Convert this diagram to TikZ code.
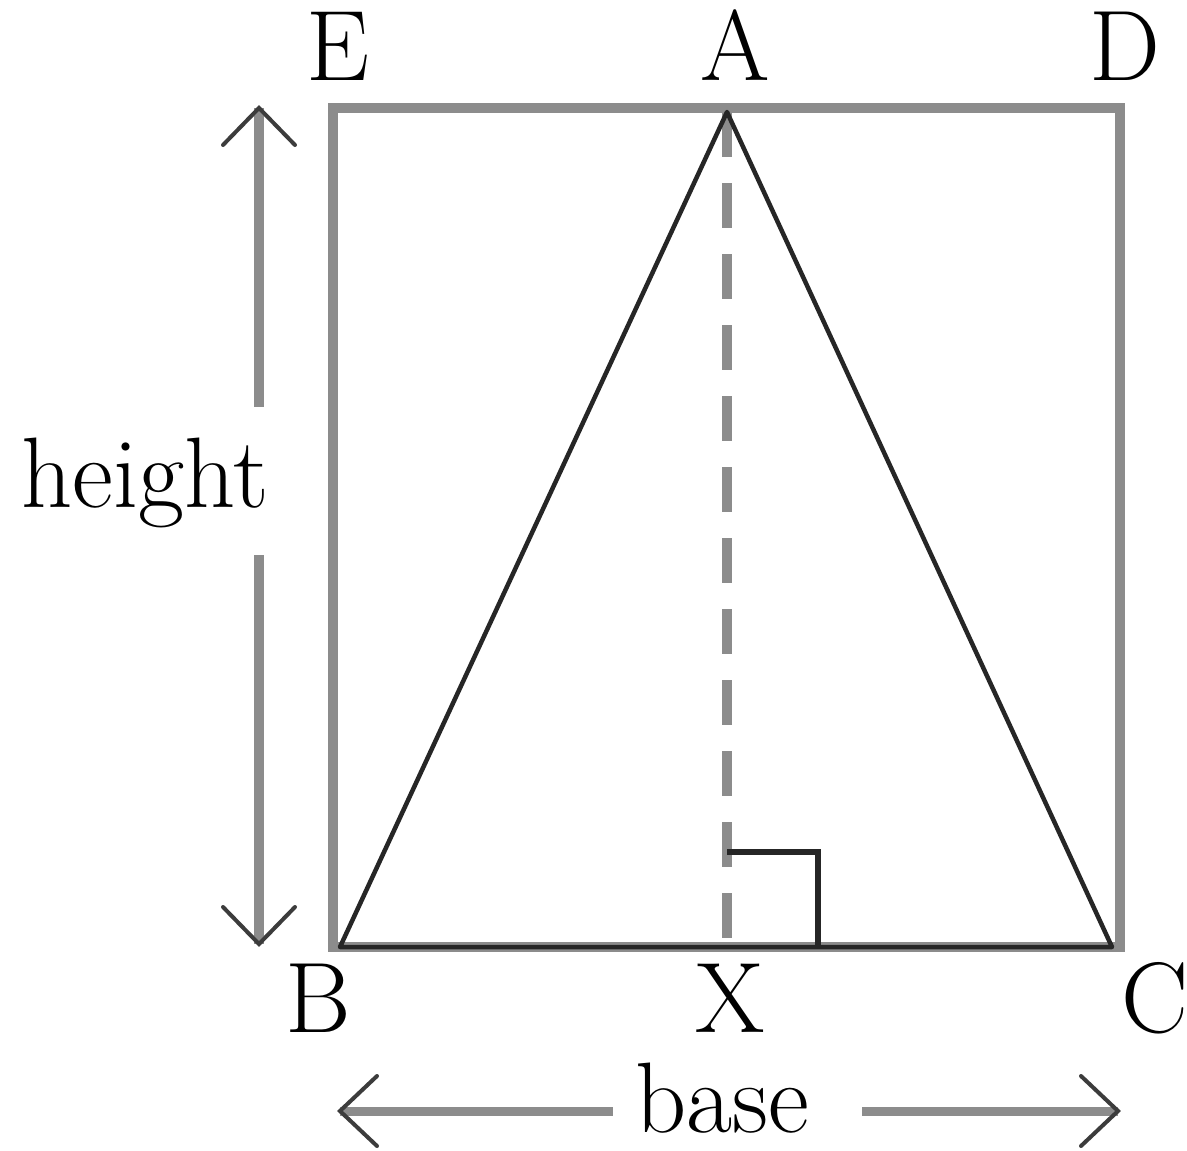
\documentclass[tikz,border=0pt]{standalone}
\definecolor{framegray}{HTML}{8C8C8C}
\definecolor{inkdark}{HTML}{262626}
\begin{document}
\begin{tikzpicture}[x=0.01cm,y=-0.01cm]
\tikzset{
  frame/.style={draw=framegray,line width=0.095cm},
  tri/.style={draw=inkdark,line width=0.045cm,line join=round,line cap=round},
  alt/.style={draw=framegray,line width=0.095cm,dash pattern=on 0.45cm off 0.26cm},
  rmark/.style={draw=inkdark,line width=0.055cm},
  shaft/.style={draw=framegray,line width=0.09cm},
  chev/.style={draw=inkdark!90,line width=0.04cm,line join=miter,line cap=round},
  lbl/.style={anchor=base,inner sep=0pt,font=\fontsize{28.5}{31}\selectfont}
}
\useasboundingbox[fill=white] (0,0) rectangle (1187,1151);
% rectangle corners
\coordinate (e) at (333,108);
\coordinate (d) at (1120,108);
\coordinate (b) at (333,947);
\coordinate (c) at (1120,947);
% triangle
\coordinate (a) at (727,112);
\coordinate (bt) at (340,947);
\coordinate (ct) at (1112,947);
\coordinate (x) at (727,947);
\coordinate (r1) at (727,852);
\coordinate (r2) at (818,852);
\coordinate (r3) at (818,947);
\draw[frame] (e) -- (d) -- (c) -- (b) -- cycle;
\draw[alt] (a) -- (x);
\draw[tri] (bt) -- (a) -- (ct) -- cycle;
\draw[rmark] (r1) -- (r2) -- (r3);
% height arrow
\coordinate (ht) at (259,108);
\coordinate (hb) at (259,944);
\coordinate (hg1) at (259,407);
\coordinate (hg2) at (259,555);
\draw[shaft] (ht) -- (hg1);
\draw[shaft] (hg2) -- (hb);
\draw[chev] ([shift={(-36,37)}]ht) -- (ht) -- ([shift={(36,37)}]ht);
\draw[chev] ([shift={(-36,-37)}]hb) -- (hb) -- ([shift={(36,-37)}]hb);
\node[lbl] (hlbl) at (145,507) {height};
% base arrow
\coordinate (bl) at (340,1111);
\coordinate (br) at (1118,1111);
\coordinate (bg1) at (613,1111);
\coordinate (bg2) at (862,1111);
\draw[shaft] (bl) -- (bg1);
\draw[shaft] (bg2) -- (br);
\draw[chev] ([shift={(37,-35)}]bl) -- (bl) -- ([shift={(37,35)}]bl);
\draw[chev] ([shift={(-37,-35)}]br) -- (br) -- ([shift={(-37,35)}]br);
\node[lbl] (blbl) at (722,1132) {base};
% vertex labels
\node[lbl] (le) at (338,80) {E};
\node[lbl] (la) at (735,80) {A};
\node[lbl] (ld) at (1125,80) {D};
\node[lbl] (lb) at (318,1032) {B};
\node[lbl] (lx) at (730,1032) {X};
\node[lbl] (lc) at (1155,1032) {C};
\end{tikzpicture}
\end{document}
